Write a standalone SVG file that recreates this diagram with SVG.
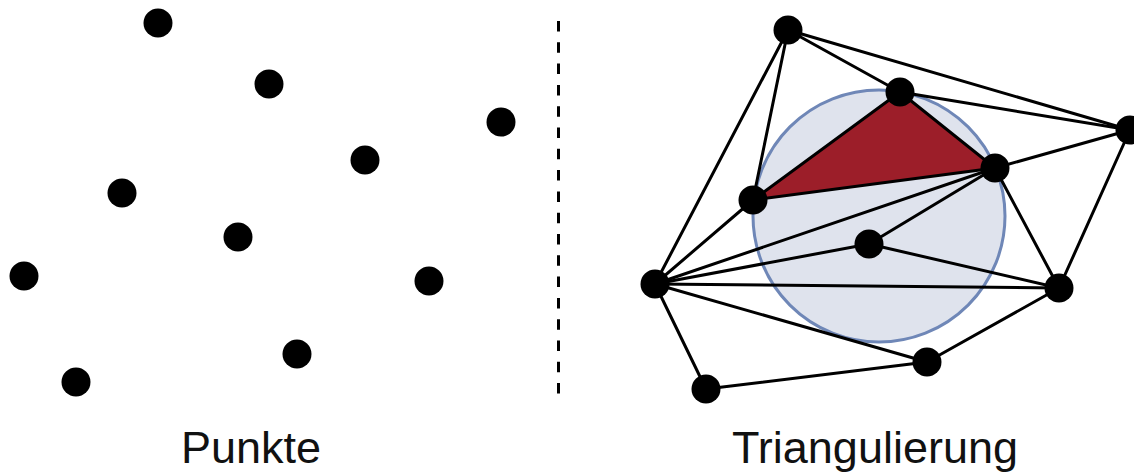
<svg xmlns="http://www.w3.org/2000/svg" width="1134" height="476" viewBox="0 0 1134 476">
  <style>
    .pt { fill: #000; }
    .edge { stroke: #000; stroke-width: 3; stroke-linecap: round; fill: none; }
    .label { font-family: "Liberation Sans", Arial, sans-serif; font-size: 45px; fill: #111; text-anchor: middle; }
  </style>
  <rect width="1134" height="476" fill="#fff"/>

  <!-- Left: scattered points -->
  <g id="points">
    <circle class="pt" cx="158" cy="23" r="14.5"/>
    <circle class="pt" cx="269" cy="84" r="14.5"/>
    <circle class="pt" cx="501" cy="122" r="14.5"/>
    <circle class="pt" cx="365" cy="160" r="14.5"/>
    <circle class="pt" cx="122" cy="193" r="14.5"/>
    <circle class="pt" cx="238" cy="237" r="14.5"/>
    <circle class="pt" cx="24" cy="276" r="14.5"/>
    <circle class="pt" cx="429" cy="281" r="14.5"/>
    <circle class="pt" cx="297" cy="354" r="14.5"/>
    <circle class="pt" cx="76" cy="382" r="14.5"/>
  </g>

  <!-- Divider -->
  <line id="divider" x1="558.5" y1="21" x2="558.5" y2="395" stroke="#000" stroke-width="3" stroke-dasharray="10.5 10.8"/>

  <!-- Right: circumcircle and highlighted triangle -->
  <g id="circumcircle">
    <circle cx="879" cy="216" r="126" fill="#dfe3ed" stroke="#6f87b7" stroke-width="3"/>
  </g>
  <g id="triangle">
    <polygon points="753,200 900,92 995,168" fill="#9c1e29"/>
  </g>

  <!-- Triangulation edges -->
  <g id="edges" class="edge">
    <line x1="788" y1="30" x2="753" y2="200"/>
    <line x1="788" y1="30" x2="655" y2="284"/>
    <line x1="788" y1="30" x2="900" y2="92"/>
    <line x1="788" y1="30" x2="1130" y2="130"/>
    <line x1="900" y1="92" x2="1130" y2="130"/>
    <line x1="900" y1="92" x2="995" y2="168"/>
    <line x1="900" y1="92" x2="753" y2="200"/>
    <line x1="1130" y1="130" x2="995" y2="168"/>
    <line x1="1130" y1="130" x2="1059" y2="288"/>
    <line x1="995" y1="168" x2="753" y2="200"/>
    <line x1="995" y1="168" x2="655" y2="284"/>
    <line x1="995" y1="168" x2="869" y2="244"/>
    <line x1="995" y1="168" x2="1059" y2="288"/>
    <line x1="753" y1="200" x2="655" y2="284"/>
    <line x1="869" y1="244" x2="655" y2="284"/>
    <line x1="869" y1="244" x2="1059" y2="288"/>
    <line x1="655" y1="284" x2="1059" y2="288"/>
    <line x1="655" y1="284" x2="927" y2="362"/>
    <line x1="655" y1="284" x2="706" y2="389"/>
    <line x1="1059" y1="288" x2="927" y2="362"/>
    <line x1="927" y1="362" x2="706" y2="389"/>
  </g>

  <!-- Triangulation vertices -->
  <g id="vertices">
    <circle id="vA" class="pt" cx="788" cy="30" r="14.5"/>
    <circle id="vB" class="pt" cx="900" cy="92" r="14.5"/>
    <circle id="vC" class="pt" cx="1130" cy="130" r="14.5"/>
    <circle id="vD" class="pt" cx="995" cy="168" r="14.5"/>
    <circle id="vE" class="pt" cx="753" cy="200" r="14.5"/>
    <circle id="vF" class="pt" cx="869" cy="244" r="14.5"/>
    <circle id="vG" class="pt" cx="655" cy="284" r="14.5"/>
    <circle id="vH" class="pt" cx="1059" cy="288" r="14.5"/>
    <circle id="vI" class="pt" cx="927" cy="362" r="14.5"/>
    <circle id="vJ" class="pt" cx="706" cy="389" r="14.5"/>
  </g>

  <!-- Captions -->
  <g id="captions">
    <text class="label" x="251" y="463">Punkte</text>
    <text class="label" x="875" y="463">Triangulierung</text>
  </g>
</svg>
